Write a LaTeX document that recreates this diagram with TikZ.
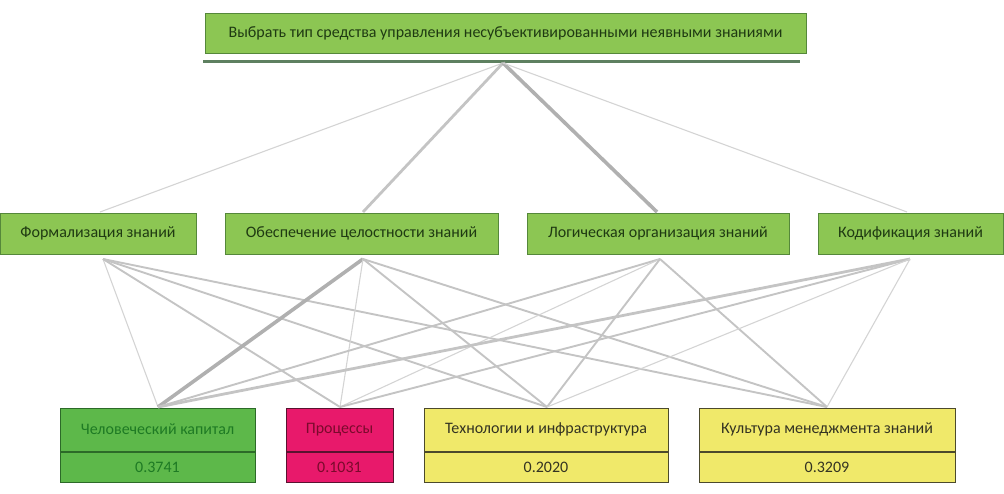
\documentclass[tikz,border=0pt]{standalone}
\usepackage{fontspec}
\setmainfont{Carlito}
\definecolor{gfill}{HTML}{8CC653}
\definecolor{gdraw}{HTML}{55883A}
\definecolor{gtext}{HTML}{1F3A12}
\definecolor{hfill}{HTML}{5DB84A}
\definecolor{hdraw}{HTML}{2C6A28}
\definecolor{htext}{HTML}{1E7A24}
\definecolor{pfill}{HTML}{E8196B}
\definecolor{pdraw}{HTML}{5A1230}
\definecolor{ptext}{HTML}{7A0A2C}
\definecolor{yfill}{HTML}{F0E96A}
\definecolor{ydraw}{HTML}{4C4A2C}
\definecolor{ytext}{HTML}{333322}
\definecolor{lnk}{HTML}{C4C4C4}
\definecolor{lnklight}{HTML}{D4D4D4}
\definecolor{rule}{HTML}{5E8060}
\tikzset{
  gbox/.style={draw=gdraw, fill=gfill, line width=1pt, text=gtext, font=\fontsize{16}{18}\selectfont, inner sep=0pt},
  half/.style={draw, line width=1pt, font=\fontsize{16}{18}\selectfont, inner sep=0pt},
  thinl/.style={draw=lnklight, line width=1.1pt},
  medl/.style={draw=lnk, line width=1.9pt},
  thickl/.style={draw=lnk, line width=2.8pt},
  heavyl/.style={draw=lnk!90!black, line width=3.6pt},
}
\begin{document}
\begin{tikzpicture}[x=1pt,y=-1pt]
\useasboundingbox (0,0) rectangle (1004,493);
% top
\node[gbox, minimum width=601pt, minimum height=40pt] (goal) at (505.5,33) {Выбрать тип средства управления несубъективированными неявными знаниями};
\coordinate (rl) at (203,61.5);
\coordinate (rr) at (800,61.5);
\draw[rule, line width=2.4pt] (rl) -- (rr);
\coordinate (hub) at (503,63);
% middle
\node[gbox, minimum width=196pt, minimum height=41pt] (f) at (98,233.5) {Формализация знаний};
\node[gbox, minimum width=273pt, minimum height=41pt] (o) at (361.5,233.5) {Обеспечение целостности знаний};
\node[gbox, minimum width=262pt, minimum height=41pt] (l) at (658,233.5) {Логическая организация знаний};
\node[gbox, minimum width=185pt, minimum height=41pt] (k) at (910.5,233.5) {Кодификация знаний};
\coordinate (fT) at (100,212);
\coordinate (oT) at (363,212);
\coordinate (lT) at (657,212);
\coordinate (kT) at (907,212);
\coordinate (fB) at (103,259);
\coordinate (oB) at (363,259);
\coordinate (lB) at (660,259);
\coordinate (kB) at (910,259);
% bottom
\node[half, draw=hdraw, fill=hfill, text=htext, minimum width=195pt, minimum height=43pt] (h) at (157.5,429.5) {Человеческий капитал};
\node[half, draw=hdraw, fill=hfill, text=htext, minimum width=195pt, minimum height=30pt, anchor=north] (hv) at (h.south) {0.3741};
\node[half, draw=pdraw, fill=pfill, text=ptext, minimum width=107pt, minimum height=43pt] (p) at (339.5,429.5) {Процессы};
\node[half, draw=pdraw, fill=pfill, text=ptext, minimum width=107pt, minimum height=30pt, anchor=north] (pv) at (p.south) {0.1031};
\node[half, draw=ydraw, fill=yfill, text=ytext, minimum width=244pt, minimum height=43pt] (t) at (546,429.5) {Технологии и инфраструктура};
\node[half, draw=ydraw, fill=yfill, text=ytext, minimum width=244pt, minimum height=30pt, anchor=north] (tv) at (t.south) {0.2020};
\node[half, draw=ydraw, fill=yfill, text=ytext, minimum width=256pt, minimum height=43pt] (c) at (827,429.5) {Культура менеджмента знаний};
\node[half, draw=ydraw, fill=yfill, text=ytext, minimum width=256pt, minimum height=30pt, anchor=north] (cv) at (c.south) {0.3209};
\coordinate (hT) at (158,407);
\coordinate (pT) at (340,407);
\coordinate (tT) at (547,407);
\coordinate (cT) at (827,407);
% top links
\draw[thinl] (hub) -- (fT);
\draw[thickl] (hub) -- (oT);
\draw[heavyl] (hub) -- (lT);
\draw[thinl] (hub) -- (kT);
% lower links
\draw[thinl] (fB) -- (hT);
\draw[medl] (fB) -- (pT);
\draw[medl] (fB) -- (tT);
\draw[medl] (fB) -- (cT);
\draw[heavyl] (oB) -- (hT);
\draw[thinl] (oB) -- (pT);
\draw[medl] (oB) -- (tT);
\draw[medl] (oB) -- (cT);
\draw[medl] (lB) -- (hT);
\draw[thinl] (lB) -- (pT);
\draw[medl] (lB) -- (tT);
\draw[medl] (lB) -- (cT);
\draw[thickl] (kB) -- (hT);
\draw[medl] (kB) -- (pT);
\draw[thinl] (kB) -- (tT);
\draw[thinl] (kB) -- (cT);
\end{tikzpicture}
\end{document}
